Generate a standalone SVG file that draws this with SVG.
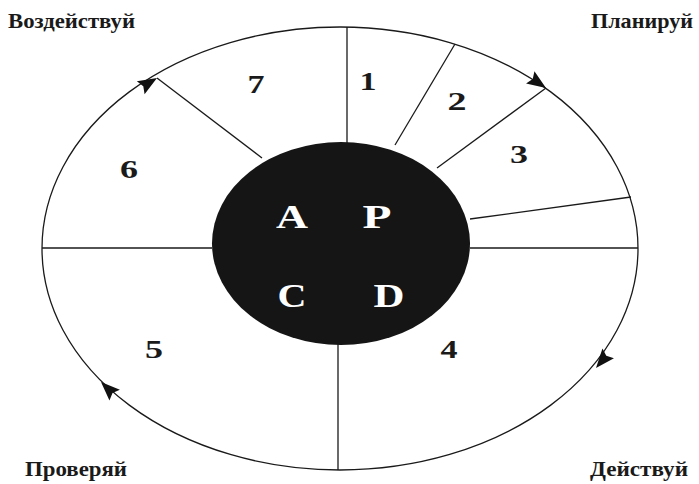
<svg xmlns="http://www.w3.org/2000/svg" width="699" height="484" viewBox="0 0 699 484">
  <style>
    .ln { stroke: #1a1a1a; stroke-width: 1.3; fill: none; }
    .title { font-family: "Liberation Serif", "Times New Roman", serif; font-weight: bold; font-size: 21px; fill: #1a1a1a; }
    .num { font-family: "Liberation Serif", "Times New Roman", serif; font-weight: bold; font-size: 25px; fill: #1a1a1a; text-anchor: middle; }
    .core { font-family: "Liberation Serif", "Times New Roman", serif; font-weight: bold; font-size: 33px; fill: #ffffff; text-anchor: middle; }
  </style>
  <defs>
    <path id="arr" d="M0,0 L-19,-7.5 L-16,0 L-19,7.5 Z" fill="#111"/>
  </defs>
  <rect width="699" height="484" fill="#ffffff"/>

  <g id="outer-ring">
    <ellipse class="ln" cx="340" cy="248.5" rx="298" ry="221.5"/>
  </g>

  <g id="connectors">
    <line class="ln" x1="347" y1="27" x2="347" y2="143"/>
    <line class="ln" x1="455" y1="44" x2="395" y2="145"/>
    <line class="ln" x1="546" y1="88" x2="437" y2="168"/>
    <line class="ln" x1="631" y1="197" x2="470" y2="219"/>
    <line class="ln" x1="470" y1="248" x2="638" y2="248"/>
    <line class="ln" x1="338" y1="344" x2="338" y2="470"/>
    <line class="ln" x1="42" y1="248" x2="212" y2="248"/>
    <line class="ln" x1="157" y1="78" x2="262" y2="158"/>
    <use href="#arr" transform="translate(157,78) rotate(-31)"/>
    <use href="#arr" transform="translate(546,88) rotate(34)"/>
    <use href="#arr" transform="translate(596,368) rotate(130)"/>
    <use href="#arr" transform="translate(101,382) rotate(224)"/>
  </g>

  <g id="core">
    <ellipse cx="341" cy="243.5" rx="129" ry="101.5" fill="#151515"/>
    <text class="core" x="292" y="228" textLength="32" lengthAdjust="spacingAndGlyphs">A</text>
    <text class="core" x="377" y="228" textLength="29" lengthAdjust="spacingAndGlyphs">P</text>
    <text class="core" x="292" y="307" textLength="29" lengthAdjust="spacingAndGlyphs">C</text>
    <text class="core" x="389" y="307" textLength="31" lengthAdjust="spacingAndGlyphs">D</text>
  </g>

  <g id="segment-1"><text class="num" x="368" y="90" textLength="17" lengthAdjust="spacingAndGlyphs">1</text></g>
  <g id="segment-2"><text class="num" x="457" y="110" textLength="19" lengthAdjust="spacingAndGlyphs">2</text></g>
  <g id="segment-3"><text class="num" x="519" y="163" textLength="18" lengthAdjust="spacingAndGlyphs">3</text></g>
  <g id="segment-4"><text class="num" x="449" y="358" textLength="17" lengthAdjust="spacingAndGlyphs">4</text></g>
  <g id="segment-5"><text class="num" x="154" y="358" textLength="18" lengthAdjust="spacingAndGlyphs">5</text></g>
  <g id="segment-6"><text class="num" x="129" y="178" textLength="18" lengthAdjust="spacingAndGlyphs">6</text></g>
  <g id="segment-7"><text class="num" x="256" y="93" textLength="17" lengthAdjust="spacingAndGlyphs">7</text></g>

  <g id="label-act"><text class="title" x="8" y="28" textLength="127" lengthAdjust="spacingAndGlyphs">Воздействуй</text></g>
  <g id="label-plan"><text class="title" x="591" y="28" textLength="102" lengthAdjust="spacingAndGlyphs">Планируй</text></g>
  <g id="label-check"><text class="title" x="25" y="476" textLength="102" lengthAdjust="spacingAndGlyphs">Проверяй</text></g>
  <g id="label-do"><text class="title" x="590" y="476" textLength="98" lengthAdjust="spacingAndGlyphs">Действуй</text></g>
</svg>
